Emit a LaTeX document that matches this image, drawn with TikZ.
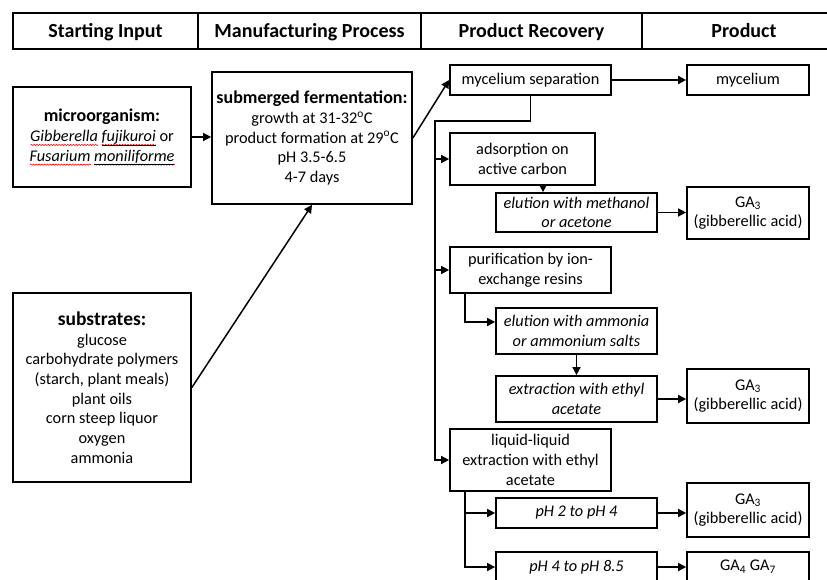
\documentclass[tikz,border=0pt]{standalone}
\usepackage{fontspec}
\setmainfont{Carlito}
\usetikzlibrary{arrows.meta,decorations.pathmorphing}

\newlength\wavelen
\newcommand\spellwave[1]{\settowidth\wavelen{#1}\rlap{\raisebox{-4.5pt}[0pt][0pt]{\tikz\draw[red,line width=0.6pt,decorate,decoration={snake,amplitude=0.6pt,segment length=2.8pt}] (0,0) -- (\wavelen,0);}}#1}

\begin{document}
\begin{tikzpicture}[x=1pt,y=-1pt,line width=1.5pt,
  font=\fontsize{16.3}{19.7}\selectfont,
  blk/.style n args={2}{draw,line width=1.7pt,minimum width=#1pt,minimum height=#2pt,align=center,inner sep=1pt},
  hd/.style={draw,line width=1.8pt,minimum width=#1pt,minimum height=36pt,text height=15pt,text depth=2pt,font=\fontsize{20}{24}\selectfont\bfseries},
  arr/.style={-{Triangle[length=8pt,width=8pt]},line width=1.5pt}]
\useasboundingbox (0,0) rectangle (827,580);
\clip (0,0) rectangle (827,580);
% header row
\foreach \i/\cx/\w/\t in %
{1/105.5/185/Starting Input,2/309.5/223/Manufacturing Process,3/531.5/221/Product Recovery,4/744/204/Product} {
   \node[hd=\w] (h\i) at (\cx,31) {\t};
}
% inputs and process
\node[blk={178}{100}] (micro) at (102,137)
   {{\fontsize{18}{21}\selectfont\bfseries microorganism:}\\
    \spellwave{\textit{Gibberella}} \spellwave{\underline{\textit{fujikuroi}}} or\\
    \spellwave{\textit{Fusarium}} \spellwave{\underline{\textit{moniliforme}}}};
\node[blk={178}{189}] (subs) at (102,387.5)
   {{\fontsize{19.5}{21}\selectfont\bfseries substrates:}\\ glucose\\ carbohydrate polymers\\
    (starch, plant meals)\\ plant oils\\ corn steep liquor\\ oxygen\\ ammonia};
\node[blk={200}{132}] (mid) at (312,138)
   {{\fontsize{18}{21}\selectfont\bfseries submerged fermentation:}\\
    growth at 31-32\textsuperscript{o}C\\ product formation at 29\textsuperscript{o}C\\
    pH 3.5-6.5\\ 4-7 days};
% recovery
\node[blk={161}{30}] (mycsep) at (530.5,80) {mycelium separation};
\node[blk={145}{52}] (adsorb) at (522.5,159) {adsorption on\\ active carbon};
\node[blk={161}{39}] (elumeth) at (576.5,212.5) {\textit{elution with methanol}\\ \textit{or acetone}};
\node[blk={161}{46}] (purif) at (530.5,270) {purification by ion-\\ exchange resins};
\node[blk={161}{46}] (eluamm) at (576.5,331) {\textit{elution with ammonia}\\ \textit{or ammonium salts}};
\node[blk={161}{46}] (extr) at (576.5,399) {\textit{extraction with ethyl}\\ \textit{acetate}};
\node[blk={161}{62}] (liquid) at (530.5,460) {liquid-liquid\\ extraction with ethyl\\ acetate};
\node[blk={161}{30}] (ph2) at (576.5,513) {\textit{pH 2 to pH 4}};
\node[blk={161}{30}] (ph4) at (576.5,567) {\textit{pH 4 to pH 8.5}};
% products
\node[blk={122}{30}] (mycel) at (748,80) {mycelium};
\node[blk={122}{52}] (ga1) at (748,213) {GA\textsubscript{3}\\ (gibberellic acid)};
\node[blk={122}{54}] (ga2) at (748,396) {GA\textsubscript{3}\\ (gibberellic acid)};
\node[blk={122}{54}] (ga3) at (748,510) {GA\textsubscript{3}\\ (gibberellic acid)};
\node[blk={122}{30}] (ga47) at (748,567) {GA\textsubscript{4} GA\textsubscript{7}};
% connectors
\draw[arr] (micro.east) -- (micro.east -| mid.west);
\draw[arr] (subs.east) -- (mid.south);
\draw[arr] (mid.east) -- (mycsep.west);
\draw[arr] (mycsep.east) -- (mycel.west);
\coordinate (trunk) at (435,121);
\draw[arr] (mycsep.south) |- (trunk) |- (liquid.west);
\draw[arr] (trunk |- adsorb.west) -- (adsorb.west);
\draw[arr] (trunk |- purif.west) -- (purif.west);
\draw[arr] ([xshift=20.5pt]adsorb.south) -- ([xshift=20.5pt]adsorb.south |- elumeth.north);
\draw[arr] (elumeth.east) -- (elumeth.east -| ga1.west);
\draw[arr] ([xshift=-65.5pt]purif.south) |- ([yshift=9pt]eluamm.west);
\draw[arr] (eluamm.south) -- (extr.north);
\draw[arr] (extr.east) -- (extr.east -| ga2.west);
\draw[arr] ([xshift=-65.5pt]liquid.south) |- (ph2.west);
\draw[arr] ([xshift=-65.5pt]liquid.south) |- (ph4.west);
\draw[arr] (ph2.east) -- (ph2.east -| ga3.west);
\draw[arr] (ph4.east) -- (ph4.east -| ga47.west);
\end{tikzpicture}
\end{document}
